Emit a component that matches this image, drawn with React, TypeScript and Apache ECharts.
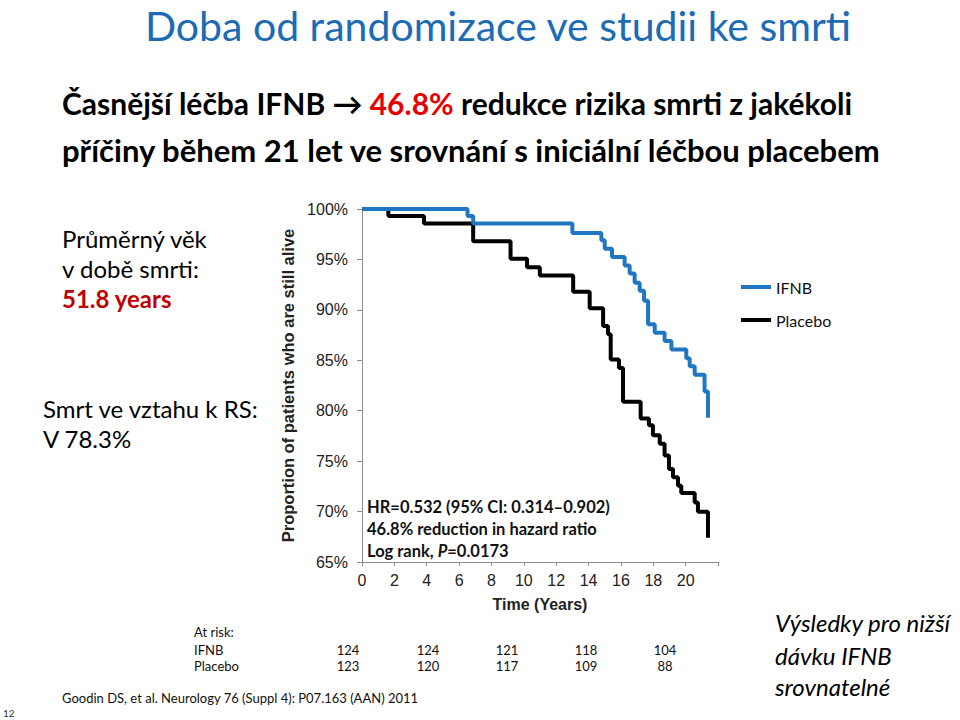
import React, { useEffect, useRef } from 'react';
import * as echarts from 'echarts';

// Kaplan–Meier step points (time in years, % alive)
const ifnbTimes = [0, 6.52, 6.87, 13.0, 14.79, 15.0, 15.45, 16.23, 16.54, 16.85, 17.16, 17.43, 17.68, 18.09, 18.7, 19.12, 20.04, 20.25, 20.56, 21.17, 21.38];
const ifnbSurvival = [100, 99.3, 98.57, 97.63, 96.9, 96.07, 95.23, 94.4, 93.6, 92.7, 91.9, 90.9, 88.57, 87.73, 86.9, 86.07, 85.2, 84.4, 83.57, 81.9, 79.3];
const placeboTimes = [0, 1.63, 3.83, 6.87, 9.18, 10.2, 10.99, 13.05, 14.07, 14.9, 15.2, 15.37, 15.88, 16.13, 17.22, 17.73, 17.98, 18.4, 18.7, 18.97, 19.22, 19.53, 19.73, 20.56, 20.76, 21.38];
const placeboSurvival = [100, 99.3, 98.57, 96.8, 95.07, 94.23, 93.4, 91.8, 90.17, 88.4, 87.57, 85.07, 84.23, 80.9, 79.23, 78.57, 77.57, 76.73, 75.57, 74.23, 73.4, 72.57, 71.83, 70.9, 69.97, 67.4];

const seriesNames = ['IFNB', 'Placebo'];
const atRiskIFNB = [124, 124, 121, 118, 104];
const atRiskPlacebo = [123, 120, 117, 109, 88];

const title = 'Doba od randomizace ve studii ke smrti';
const statsLines = ['HR=0.532 (95% CI: 0.314\u20130.902)', '46.8% reduction in hazard ratio'];

const CAL = 'Lato, "Noto Sans", sans-serif';
const ARIAL = '"Liberation Sans", Arial, sans-serif';

export default function App() {
  const ref = useRef<HTMLDivElement>(null);
  useEffect(() => {
    document.body.style.margin = '0';
    const chart = echarts.init(ref.current!, undefined, { renderer: 'svg' });
    const colX = [348, 428, 507, 586, 665];
    const atRiskTexts: any[] = [];
    atRiskIFNB.forEach((v, i) => {
      atRiskTexts.push({ type: 'text', x: colX[i], y: 650, style: { text: String(v), font: `13px ${CAL}`, fill: '#111', align: 'center', verticalAlign: 'middle' } });
    });
    atRiskPlacebo.forEach((v, i) => {
      atRiskTexts.push({ type: 'text', x: colX[i], y: 666, style: { text: String(v), font: `13px ${CAL}`, fill: '#111', align: 'center', verticalAlign: 'middle' } });
    });
    const option: any = {
      animation: false,
      backgroundColor: '#ffffff',
      grid: { left: 362, top: 209, width: 356, height: 353 },
      legend: {
        orient: 'vertical', left: 741, top: 279, padding: 0, itemWidth: 30, itemHeight: 4, itemGap: 17,
        icon: 'rect', data: seriesNames,
        textStyle: { fontFamily: CAL, fontSize: 16, color: '#111' },
      },
      xAxis: {
        type: 'value', min: 0, max: 22, interval: 2,
        axisLine: { show: true, lineStyle: { color: '#8c8c8c', width: 1 } },
        axisTick: { show: true, length: 4, lineStyle: { color: '#8c8c8c' } },
        splitLine: { show: false },
        axisLabel: { formatter: (v: number) => (v === 22 ? '' : String(v)), fontFamily: ARIAL, fontSize: 16, color: '#222', margin: 10 },
        name: 'Time (Years)', nameLocation: 'middle', nameGap: 34,
        nameTextStyle: { fontFamily: ARIAL, fontWeight: 'bold', fontSize: 16, color: '#222' },
      },
      yAxis: {
        type: 'value', min: 65, max: 100, interval: 5,
        axisLine: { show: true, lineStyle: { color: '#8c8c8c', width: 1 } },
        axisTick: { show: true, length: 5, lineStyle: { color: '#8c8c8c' } },
        splitLine: { show: false },
        axisLabel: { formatter: '{value}%', fontFamily: ARIAL, fontSize: 16, color: '#222', margin: 14 },
        name: 'Proportion of patients who are still alive', nameLocation: 'middle', nameGap: 66,
        nameTextStyle: { fontFamily: ARIAL, fontWeight: 'bold', fontSize: 16.5, color: '#222' },
      },
      series: [
        {
          name: seriesNames[0], type: 'line', step: 'end', symbol: 'none', showSymbol: false,
          data: ifnbTimes.map((t, i) => [t, ifnbSurvival[i]]),
          lineStyle: { width: 4, color: '#1f77c4' }, itemStyle: { color: '#1f77c4' }, z: 3,
        },
        {
          name: seriesNames[1], type: 'line', step: 'end', symbol: 'none', showSymbol: false,
          data: placeboTimes.map((t, i) => [t, placeboSurvival[i]]),
          lineStyle: { width: 4, color: '#000000' }, itemStyle: { color: '#000000' }, z: 2,
        },
      ],
      graphic: [
        { type: 'text', x: 498, y: 25, style: { text: title, font: `41px ${CAL}`, lineHeight: 41, fill: '#1b6bb5', align: 'center', verticalAlign: 'middle' } },
        {
          type: 'text', x: 62, y: 103,
          style: {
            text: '{b|\u010casn\u011bj\u0161\u00ed l\u00e9\u010dba IFNB \u2192 }{r|46.8%}{b| redukce rizika smrti z jak\u00e9koli}',
            verticalAlign: 'middle',
            rich: {
              b: { font: `bold 30px ${CAL}`, fill: '#000' },
              r: { font: `bold 30px ${CAL}`, fill: '#e60000' },
            },
          },
        },
        { type: 'text', x: 62, y: 150, style: { text: 'p\u0159\u00ed\u010diny b\u011bhem 21 let ve srovn\u00e1n\u00ed s inici\u00e1ln\u00ed l\u00e9\u010dbou placebem', font: `bold 31px ${CAL}`, fill: '#000', verticalAlign: 'middle' } },
        { type: 'text', x: 62, y: 238, style: { text: 'Pr\u016fm\u011brn\u00fd v\u011bk', font: `24px ${CAL}`, fill: '#000', verticalAlign: 'middle' } },
        { type: 'text', x: 62, y: 268, style: { text: 'v dob\u011b smrti:', font: `24px ${CAL}`, fill: '#000', verticalAlign: 'middle' } },
        { type: 'text', x: 62, y: 298, style: { text: '51.8 years', font: `bold 24px ${CAL}`, fill: '#c00000', verticalAlign: 'middle' } },
        { type: 'text', x: 43, y: 408, style: { text: 'Smrt ve vztahu k RS:', font: `24px ${CAL}`, fill: '#000', verticalAlign: 'middle' } },
        { type: 'text', x: 43, y: 438, style: { text: 'V 78.3%', font: `24px ${CAL}`, fill: '#000', verticalAlign: 'middle' } },
        { type: 'text', x: 367, y: 507, style: { text: statsLines[0], font: `bold 16.5px ${CAL}`, fill: '#111', verticalAlign: 'middle' } },
        { type: 'text', x: 367, y: 529, style: { text: statsLines[1], font: `bold 16.5px ${CAL}`, fill: '#111', verticalAlign: 'middle' } },
        {
          type: 'text', x: 367, y: 551,
          style: {
            text: '{b|Log rank, }{i|P}{b|=0.0173}', verticalAlign: 'middle',
            rich: {
              b: { font: `bold 16.5px ${CAL}`, fill: '#111' },
              i: { font: `italic bold 16.5px ${CAL}`, fill: '#111' },
            },
          },
        },
        { type: 'text', x: 194, y: 632, style: { text: 'At risk:', font: `13px ${CAL}`, fill: '#111', verticalAlign: 'middle' } },
        { type: 'text', x: 194, y: 650, style: { text: 'IFNB', font: `13px ${CAL}`, fill: '#111', verticalAlign: 'middle' } },
        { type: 'text', x: 194, y: 666, style: { text: 'Placebo', font: `13px ${CAL}`, fill: '#111', verticalAlign: 'middle' } },
        ...atRiskTexts,
        { type: 'text', x: 62, y: 698, style: { text: 'Goodin DS, et al. Neurology 76 (Suppl 4): P07.163 (AAN) 2011', font: `13px ${CAL}`, fill: '#111', verticalAlign: 'middle' } },
        { type: 'text', x: 3, y: 713, style: { text: '12', font: `10px ${CAL}`, fill: '#333', verticalAlign: 'middle' } },
        { type: 'text', x: 775, y: 622, style: { text: 'V\u00fdsledky pro ni\u017e\u0161\u00ed', font: `italic 24px ${CAL}`, fill: '#000', verticalAlign: 'middle' } },
        { type: 'text', x: 775, y: 655, style: { text: 'd\u00e1vku IFNB', font: `italic 24px ${CAL}`, fill: '#000', verticalAlign: 'middle' } },
        { type: 'text', x: 775, y: 686, style: { text: 'srovnateln\u00e9', font: `italic 24px ${CAL}`, fill: '#000', verticalAlign: 'middle' } },
      ],
    };
    chart.setOption(option);
    return () => chart.dispose();
  }, []);
  return <div ref={ref} style={{ position: 'fixed', left: 0, top: 0, width: 960, height: 720 }} />;
}
